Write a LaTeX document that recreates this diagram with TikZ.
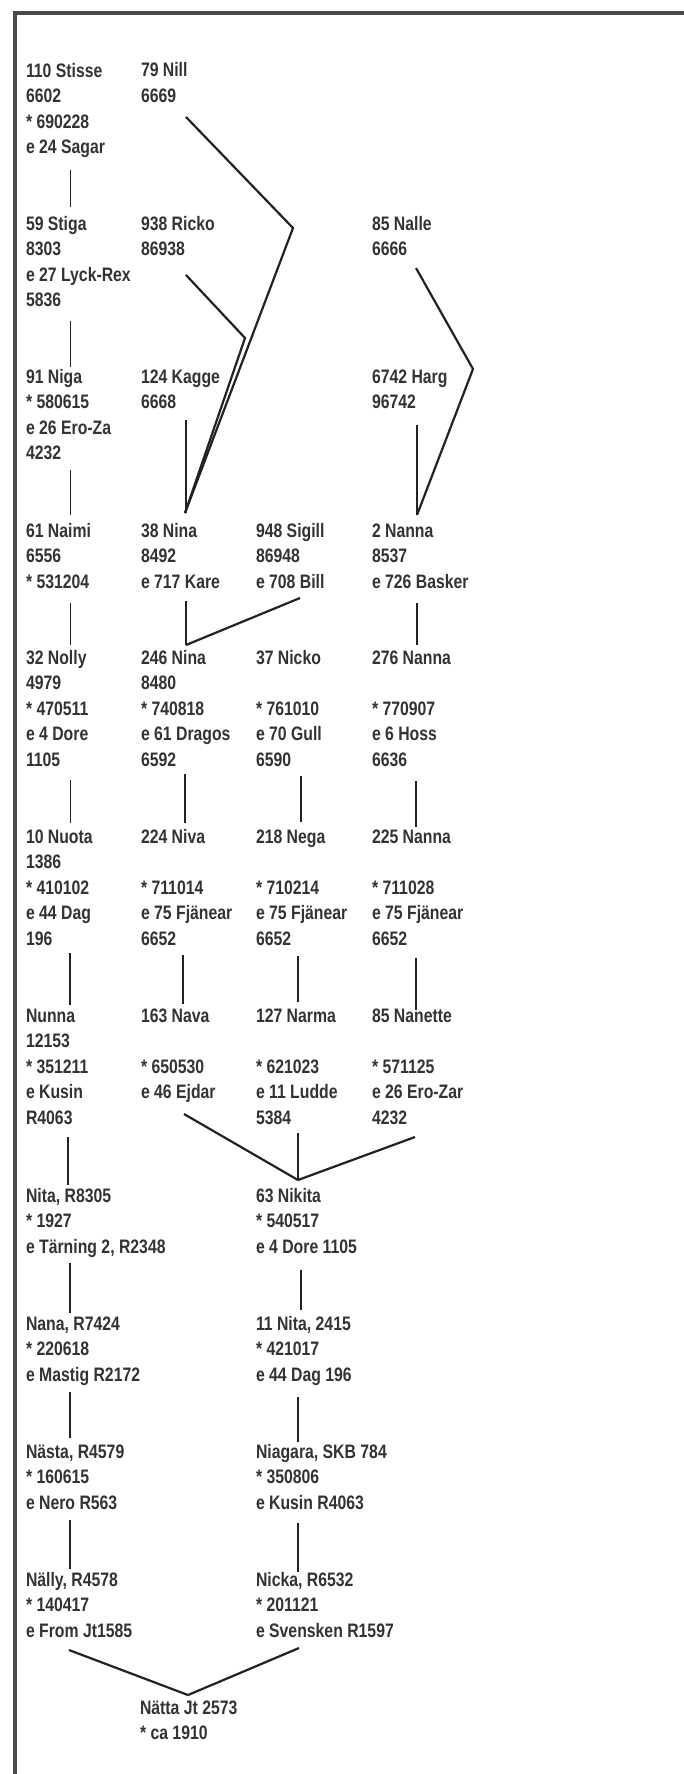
\documentclass[tikz,border=0pt]{standalone}
\usepackage{fontspec}
\newfontfamily\nf{Liberation Sans}[FakeStretch=0.81]
\usetikzlibrary{calc}
\definecolor{txt}{HTML}{333333}
\definecolor{ln}{HTML}{222222}
\definecolor{frm}{HTML}{4A4A4A}
\newcommand\st{\rule[-7pt]{0pt}{25pt}}
\tikzset{
  blk/.style={inner sep=0pt, outer sep=0pt, align=left, anchor=north west, text=txt,
    font={\nf\bfseries\fontsize{19.5}{25.5}\selectfont}},
  vl/.style={draw=ln, line width=1.7pt},
  dl/.style={draw=ln, line width=2.2pt, line join=miter},
  frame/.style={draw=frm, line width=4pt}
}
\newcommand\vlink[5]{\draw[vl] ($(#1.south west)+(#3,#4)$) -- ($(#2.north west)+(#3,#5)$);}
\begin{document}
\begin{tikzpicture}[x=1pt,y=-1pt]
\useasboundingbox (0,0) rectangle (684,1774);
\fill[white] (0,0) rectangle (684,1774);
\draw[frame] (14.5,1774) -- (14.5,13.5) -- (684,13.5);

% Row 1
\node[blk] (stisse) at (26,59) {\st 110 Stisse\\\st 6602\\\st * 690228\\\st e 24 Sagar};
\node[blk] (nill) at (141,59) {\st 79 Nill\\\st 6669};
% Row 2
\node[blk] (stiga) at (26,212) {\st 59 Stiga\\\st 8303\\\st e 27 Lyck-Rex\\\st 5836};
\node[blk] (ricko) at (141,212) {\st 938 Ricko\\\st 86938};
\node[blk] (nalle) at (372,212) {\st 85 Nalle\\\st 6666};
% Row 3
\node[blk] (niga) at (26,365) {\st 91 Niga\\\st * 580615\\\st e 26 Ero-Za\\\st 4232};
\node[blk] (kagge) at (141,365) {\st 124 Kagge\\\st 6668};
\node[blk] (harg) at (372,365) {\st 6742 Harg\\\st 96742};
% Row 4
\node[blk] (naimi) at (26,519) {\st 61 Naimi\\\st 6556\\\st * 531204};
\node[blk] (nina38) at (141,519) {\st 38 Nina\\\st 8492\\\st e 717 Kare};
\node[blk] (sigill) at (256,519) {\st 948 Sigill\\\st 86948\\\st e 708 Bill};
\node[blk] (nanna2) at (372,519) {\st 2 Nanna\\\st 8537\\\st e 726 Basker};
% Row 5
\node[blk] (nolly) at (26,646) {\st 32 Nolly\\\st 4979\\\st * 470511\\\st e 4 Dore\\\st 1105};
\node[blk] (nina246) at (141,646) {\st 246 Nina\\\st 8480\\\st * 740818\\\st e 61 Dragos\\\st 6592};
\node[blk] (nicko) at (256,646) {\st 37 Nicko\\\st\\\st * 761010\\\st e 70 Gull\\\st 6590};
\node[blk] (nanna276) at (372,646) {\st 276 Nanna\\\st\\\st * 770907\\\st e 6 Hoss\\\st 6636};
% Row 6
\node[blk] (nuota) at (26,825) {\st 10 Nuota\\\st 1386\\\st * 410102\\\st e 44 Dag\\\st 196};
\node[blk] (niva) at (141,825) {\st 224 Niva\\\st\\\st * 711014\\\st e 75 Fjänear\\\st 6652};
\node[blk] (nega) at (256,825) {\st 218 Nega\\\st\\\st * 710214\\\st e 75 Fjänear\\\st 6652};
\node[blk] (nanna225) at (372,825) {\st 225 Nanna\\\st\\\st * 711028\\\st e 75 Fjänear\\\st 6652};
% Row 7
\node[blk] (nunna) at (26,1004) {\st Nunna\\\st 12153\\\st * 351211\\\st e Kusin\\\st R4063};
\node[blk] (nava) at (141,1004) {\st 163 Nava\\\st\\\st * 650530\\\st e 46 Ejdar};
\node[blk] (narma) at (256,1004) {\st 127 Narma\\\st\\\st * 621023\\\st e 11 Ludde\\\st 5384};
\node[blk] (nanette) at (372,1004) {\st 85 Nanette\\\st\\\st * 571125\\\st e 26 Ero-Zar\\\st 4232};
% Row 8
\node[blk] (nita) at (26,1184) {\st Nita, R8305\\\st * 1927\\\st e Tärning 2, R2348};
\node[blk] (nikita) at (256,1184) {\st 63 Nikita\\\st * 540517\\\st e 4 Dore 1105};
% Row 9
\node[blk] (nana) at (26,1312) {\st Nana, R7424\\\st * 220618\\\st e Mastig R2172};
\node[blk] (nita11) at (256,1312) {\st 11 Nita, 2415\\\st * 421017\\\st e 44 Dag 196};
% Row 10
\node[blk] (nasta) at (26,1440) {\st Nästa, R4579\\\st * 160615\\\st e Nero R563};
\node[blk] (niagara) at (256,1440) {\st Niagara, SKB 784\\\st * 350806\\\st e Kusin R4063};
% Row 11
\node[blk] (nally) at (26,1568) {\st Nälly, R4578\\\st * 140417\\\st e From Jt1585};
\node[blk] (nicka) at (256,1568) {\st Nicka, R6532\\\st * 201121\\\st e Svensken R1597};
% Row 12
\node[blk] (natta) at (140,1696) {\st Nätta Jt 2573\\\st * ca 1910};

% vertical links, column 1
\vlink{stisse}{stiga}{44.5}{9.5}{-5}
\vlink{stiga}{niga}{44.5}{7.5}{2}
\vlink{niga}{naimi}{44.5}{3.5}{-4}
\vlink{naimi}{nolly}{44.5}{8}{-1}
\vlink{nolly}{nuota}{44.5}{7}{-2}
\vlink{nuota}{nunna}{44}{1}{1}
\vlink{nunna}{nita}{42}{6}{1}
\vlink{nita}{nana}{44}{3}{1}
\vlink{nana}{nasta}{44}{4}{-2}
\vlink{nasta}{nally}{44}{4}{1}
% column 2
\vlink{kagge}{nina38}{45}{4.5}{-6}
\vlink{nina38}{nina246}{45}{6}{-1}
\vlink{nina246}{niva}{44}{1}{-2}
\vlink{niva}{nava}{42}{3}{0}
% column 3
\vlink{nicko}{nega}{45}{3}{-3}
\vlink{nega}{narma}{42}{4}{-2}
\vlink{nikita}{nita11}{45}{10}{-2}
\vlink{nita11}{niagara}{42}{9}{2}
\vlink{niagara}{nicka}{42}{7}{4}
% column 4
\vlink{harg}{nanna2}{45}{9.5}{-4}
\vlink{nanna2}{nanna276}{45}{8}{-1}
\vlink{nanna276}{nanna225}{44}{8}{2}
\vlink{nanna225}{nanette}{44}{6}{6}

% diagonal links
\coordinate (b1) at (293,228);
\coordinate (b2) at (245,338);
\coordinate (b3) at (473,369);
\draw[dl] ($(nill.south west)+(45,7.5)$) -- (b1) -- ($(nina38.north west)+(44,-6)$);
\draw[dl] ($(ricko.south west)+(45,12.5)$) -- (b2) -- ($(nina38.north west)+(44,-6)$);
\draw[dl] ($(nalle.south west)+(44,5.5)$) -- (b3) -- ($(nanna2.north west)+(45,-4)$);
\draw[dl] ($(sigill.south west)+(44,3)$) -- ($(nina246.north west)+(45,-1)$);

\coordinate (j1) at ($(nikita.north west)+(42,-4)$);
\draw[dl] ($(nava.south west)+(43,8.5)$) -- (j1);
\draw[dl] ($(nanette.south west)+(43,6)$) -- (j1);
\draw[vl] ($(narma.south west)+(42,2)$) -- (j1);

\coordinate (j2) at ($(natta.north west)+(48,-1)$);
\draw[dl] ($(nally.south west)+(43,6)$) -- (j2);
\draw[dl] ($(nicka.south west)+(43,4)$) -- (j2);
\end{tikzpicture}
\end{document}
